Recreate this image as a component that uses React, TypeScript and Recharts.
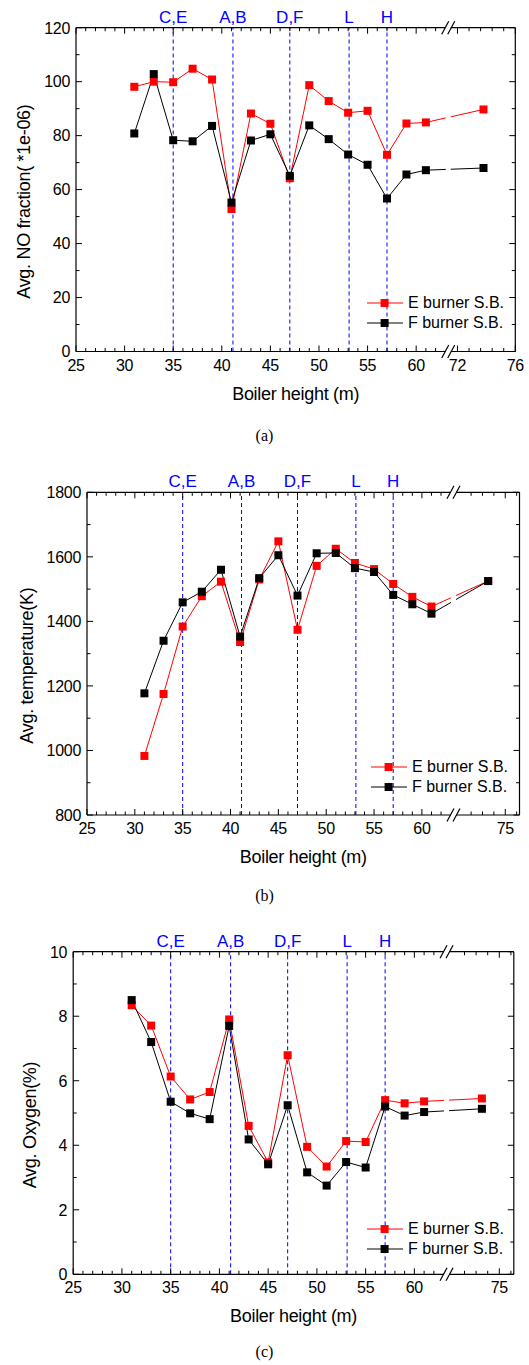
import React from 'react';
import { LineChart, Line, XAxis, YAxis, ReferenceLine, ReferenceArea, Legend, Label } from 'recharts';

// boiler heights (m) of the sampling planes; the last one sits past the axis break
const heights = [31, 33, 35, 37, 39, 41, 43, 45, 47, 49, 51, 53, 55, 57, 59, 61, 73.8];

// (a) average NO fraction (*1e-06)
const noE = [98.1, 100, 99.8, 104.8, 100.8, 52.8, 88.2, 84.4, 64.2, 98.7, 92.8, 88.5, 89.2, 72.9, 84.5, 84.9, 89.7];
const noF = [80.8, 102.8, 78.3, 77.9, 83.6, 55.2, 78.2, 80.5, 65.1, 83.8, 78.7, 73.0, 69.2, 56.7, 65.6, 67.2, 68.0];

// (b) average temperature (K)
const tempE = [983, 1175, 1384, 1478, 1523, 1336, 1530, 1648, 1374, 1572, 1625, 1581, 1562, 1516, 1476, 1446, 1525];
const tempF = [1177, 1340, 1459, 1492, 1560, 1353, 1534, 1605, 1480, 1611, 1612, 1565, 1553, 1482, 1453, 1424, 1525];

// (c) average oxygen (%)
const oxyE = [8.34, 7.71, 6.13, 5.42, 5.65, 7.9, 4.6, 3.47, 6.79, 3.95, 3.34, 4.13, 4.1, 5.4, 5.3, 5.36, 5.45];
const oxyF = [8.5, 7.2, 5.35, 4.99, 4.81, 7.7, 4.18, 3.41, 5.24, 3.16, 2.75, 3.48, 3.31, 5.2, 4.92, 5.03, 5.13];

// burner levels marked with dashed lines
const burnerHeights = [35, 41.15, 47, 53.1, 57];
const burnerLabels = ['C,E', 'A,B', 'D,F', 'L', 'H'];

const seriesNames = ['E burner S.B.', 'F burner S.B.'];
const seriesColors = ['#ff0000', '#000000'];

const labelsA = [25, 30, 35, 40, 45, 50, 55, 60, 72, 76];
const labelsBC = [25, 30, 35, 40, 45, 50, 55, 60, 75];
const minorSeg2A = [72, 72.8, 73.6, 74.4, 75.2, 76];
const minorSeg2BC = [72.6, 73.4, 74.2, 75, 75.8];

// broken x axis: 25..63 is drawn as is, 72..76 is squeezed in after the break
const X_MIN = 25;
const X_MAX = 70.2;
const BREAK = 63.3;
const SEG2_START = 64.25;
const toAxis = (h: number) => (h < 70 ? h : SEG2_START + ((h - 72) * (X_MAX - SEG2_START)) / 4);

const FONT = '"Liberation Sans", Arial, Helvetica, sans-serif';
const W = 529;
const BLUE = '#0000ff';
// room reserved for the axes (kept out of the margins)
const AX_B = 30;
const AX_T = 10;
const AX_L = 40;
const AX_R = 10;

const keyOf = (v: number) => v.toFixed(3);

function buildXTicks(labels: number[], seg2Minor: number[]) {
  const map = new Map<string, string>();
  const ticks: number[] = [BREAK];
  for (let v = 25; v <= 62; v++) ticks.push(v);
  seg2Minor.forEach((v) => ticks.push(toAxis(v)));
  labels.forEach((v) => {
    const p = toAxis(v);
    if (!ticks.some((t) => Math.abs(t - p) < 1e-6)) ticks.push(p);
    map.set(keyOf(p), String(v));
  });
  ticks.sort((a, b) => a - b);
  return { ticks, map };
}

// tick renderer; the BREAK tick draws the gap and the // marks instead
const makeXTick = (map: Map<string, string>, side: 'bottom' | 'top') => (props: any) => {
  const { x, y, payload } = props;
  if (Math.abs(payload.value - BREAK) < 1e-6) {
    return (
      <g>
        <rect x={x - 2.6} y={y - 2} width={5.2} height={4} fill="#fff" />
        <line x1={x - 6.5} y1={y + 6.5} x2={x + 0.5} y2={y - 6.5} stroke="#000" strokeWidth={1.2} />
        <line x1={x - 0.5} y1={y + 6.5} x2={x + 6.5} y2={y - 6.5} stroke="#000" strokeWidth={1.2} />
      </g>
    );
  }
  const label = map.get(keyOf(payload.value));
  const len = label !== undefined ? 6 : 3.5;
  const dir = side === 'bottom' ? -1 : 1;
  return (
    <g>
      <line x1={x} y1={y} x2={x} y2={y + dir * len} stroke="#000" strokeWidth={1} />
      {side === 'bottom' && label !== undefined && (
        <text x={x} y={y + 19} textAnchor="middle" fontSize={16} fill="#000" letterSpacing={-0.3}>
          {label}
        </text>
      )}
    </g>
  );
};

const makeYTick = (step: number, side: 'left' | 'right') => (props: any) => {
  const { x, y, payload } = props;
  const v = payload.value;
  const major = Math.abs(v / step - Math.round(v / step)) < 1e-6;
  const len = major ? 6 : 3.5;
  const dir = side === 'left' ? 1 : -1;
  return (
    <g>
      <line x1={x} y1={y} x2={x + dir * len} y2={y} stroke="#000" strokeWidth={1} />
      {side === 'left' && major && (
        <text x={x - 6} y={y + 5.8} textAnchor="end" fontSize={16} fill="#000" letterSpacing={-0.3}>
          {v}
        </text>
      )}
    </g>
  );
};

const SquareDot = (color: string) => (p: any) => (
  <rect key={`d-${p.index}`} x={p.cx - 4} y={p.cy - 4} width={8} height={8} fill={color} />
);

interface PanelProps {
  top: number;
  height: number;
  plot: { top: number; right: number; bottom: number; left: number };
  e: number[];
  f: number[];
  yDomain: [number, number];
  yStep: number;
  yMinor: number;
  yTitle: string;
  yTitleDx: number;
  xLabels: number[];
  xSeg2: number[];
  legendLeft: number;
  legendTop: number;
  caption: string;
  captionTop: number;
}

const axisLineStyle = { stroke: '#000', strokeWidth: 1.2 };

const Panel: React.FC<PanelProps> = (p) => {
  const data = heights.map((h, i) => ({ x: toAxis(h), e: p.e[i], f: p.f[i] }));
  const { ticks, map } = buildXTicks(p.xLabels, p.xSeg2);
  const yTicks: number[] = [];
  for (let v = p.yDomain[0]; v <= p.yDomain[1] + 1e-9; v += p.yMinor) yTicks.push(Math.round(v * 1000) / 1000);

  const margin = {
    top: p.plot.top - AX_T,
    right: p.plot.right - AX_R,
    bottom: p.plot.bottom - AX_B,
    left: p.plot.left - AX_L,
  };
  const plotW = W - p.plot.left - p.plot.right;
  const plotH = p.height - p.plot.top - p.plot.bottom;
  const pxX = plotW / (X_MAX - X_MIN);
  const pxY = plotH / (p.yDomain[1] - p.yDomain[0]);
  const [yMin, yMax] = p.yDomain;

  const cy = p.plot.top + plotH / 2 + 12;
  const cx = p.plot.left + plotW / 2;
  const tx = p.plot.left - p.yTitleDx;

  return (
    <div style={{ position: 'absolute', left: 0, top: p.top, width: W, height: p.height + 40 }}>
      <LineChart width={W} height={p.height} data={data} margin={margin}>
        <XAxis
          xAxisId="b"
          dataKey="x"
          type="number"
          domain={[X_MIN, X_MAX]}
          ticks={ticks}
          interval={0}
          allowDataOverflow
          axisLine={axisLineStyle}
          tickLine={false}
          tickSize={0}
          tickMargin={0}
          height={AX_B}
          tick={makeXTick(map, 'bottom')}
        >
          <Label
            content={() => (
              <text x={cx} y={p.plot.top + plotH + 48} textAnchor="middle" fontSize={18} fill="#000" letterSpacing={-0.3}>
                Boiler height (m)
              </text>
            )}
          />
        </XAxis>
        <XAxis
          xAxisId="t"
          orientation="top"
          dataKey="x"
          type="number"
          domain={[X_MIN, X_MAX]}
          ticks={ticks}
          interval={0}
          allowDataOverflow
          axisLine={axisLineStyle}
          tickLine={false}
          tickSize={0}
          tickMargin={0}
          height={AX_T}
          tick={makeXTick(map, 'top')}
        />
        <YAxis
          yAxisId="l"
          type="number"
          domain={p.yDomain}
          ticks={yTicks}
          interval={0}
          allowDataOverflow
          axisLine={axisLineStyle}
          tickLine={false}
          tickSize={0}
          tickMargin={0}
          width={AX_L}
          tick={makeYTick(p.yStep, 'left')}
        >
          <Label
            content={() => (
              <text
                x={tx}
                y={cy}
                transform={`rotate(-90 ${tx} ${cy})`}
                textAnchor="middle"
                dominantBaseline="central"
                fontSize={18}
                fill="#000"
                letterSpacing={-0.3}
              >
                {p.yTitle}
              </text>
            )}
          />
        </YAxis>
        <YAxis
          yAxisId="r"
          orientation="right"
          type="number"
          domain={p.yDomain}
          ticks={yTicks}
          interval={0}
          allowDataOverflow
          axisLine={axisLineStyle}
          tickLine={false}
          tickSize={0}
          tickMargin={0}
          width={AX_R}
          tick={makeYTick(p.yStep, 'right')}
        />

        <Line
          xAxisId="b"
          yAxisId="l"
          dataKey="e"
          name={seriesNames[0]}
          stroke={seriesColors[0]}
          strokeWidth={1}
          dot={SquareDot(seriesColors[0])}
          activeDot={false}
          isAnimationActive={false}
        />
        <Line
          xAxisId="b"
          yAxisId="l"
          dataKey="f"
          name={seriesNames[1]}
          stroke={seriesColors[1]}
          strokeWidth={1}
          dot={SquareDot(seriesColors[1])}
          activeDot={false}
          isAnimationActive={false}
        />

        {burnerHeights.map((h, i) => (
          <ReferenceLine
            key={`burner-${p.caption}-${i}`}
            xAxisId="b"
            yAxisId="l"
            x={h}
            stroke={BLUE}
            strokeWidth={1}
            strokeDasharray="4 3"
            label={{ value: burnerLabels[i], position: 'top', offset: 5, fill: BLUE, fontSize: 17 }}
          />
        ))}

        <ReferenceArea
          xAxisId="b"
          yAxisId="l"
          x1={BREAK - 2.5 / pxX}
          x2={BREAK + 2.5 / pxX}
          y1={yMin + 8 / pxY}
          y2={yMax - 8 / pxY}
          fill="#fff"
          fillOpacity={1}
          stroke="none"
          ifOverflow="visible"
          {...({ zIndex: 1000 } as any)}
        />

        <Legend
          layout="vertical"
          align="center"
          verticalAlign="middle"
          wrapperStyle={{ left: p.legendLeft, top: p.legendTop, width: 'auto' }}
          content={() => (
            <div style={{ fontFamily: FONT, fontSize: 16, color: '#000' }}>
              {seriesNames.map((n, i) => (
                <div key={n} style={{ display: 'flex', alignItems: 'center', height: 20 }}>
                  <svg width={36} height={20}>
                    <line x1={0} x2={36} y1={10} y2={10} stroke={seriesColors[i]} strokeWidth={1} />
                    <rect x={13.6} y={6} width={8} height={8} fill={seriesColors[i]} />
                  </svg>
                  <span style={{ marginLeft: 5, whiteSpace: 'nowrap' }}>{n}</span>
                </div>
              ))}
            </div>
          )}
        />
      </LineChart>
      <div
        style={{
          position: 'absolute',
          left: 0,
          top: p.captionTop,
          width: W,
          textAlign: 'center',
          fontFamily: '"Liberation Serif", "Times New Roman", serif',
          fontSize: 16,
        }}
      >
        {p.caption}
      </div>
    </div>
  );
};

export default function App() {
  return (
    <div
      style={{
        position: 'absolute',
        left: 0,
        top: 0,
        width: W,
        height: 1365,
        background: '#fff',
        fontFamily: FONT,
      }}
    >
      <Panel
        top={0}
        height={420}
        plot={{ top: 27.7, right: 13.7, bottom: 68.5, left: 76 }}
        e={noE}
        f={noF}
        yDomain={[0, 120]}
        yStep={20}
        yMinor={10}
        yTitle="Avg. NO fraction( *1e-06)"
        yTitleDx={52}
        xLabels={labelsA}
        xSeg2={minorSeg2A}
        legendLeft={367}
        legendTop={293}
        caption="(a)"
        captionTop={427}
      />
      <Panel
        top={450}
        height={420}
        plot={{ top: 42.3, right: 9.5, bottom: 55, left: 87 }}
        e={tempE}
        f={tempF}
        yDomain={[800, 1800]}
        yStep={200}
        yMinor={100}
        yTitle="Avg. temperature(K)"
        yTitleDx={60}
        xLabels={labelsBC}
        xSeg2={minorSeg2BC}
        legendLeft={371}
        legendTop={307}
        caption="(b)"
        captionTop={437}
      />
      <Panel
        top={910}
        height={420}
        plot={{ top: 41.7, right: 15.2, bottom: 55.7, left: 73.2 }}
        e={oxyE}
        f={oxyF}
        yDomain={[0, 10]}
        yStep={2}
        yMinor={1}
        yTitle="Avg. Oxygen(%)"
        yTitleDx={43}
        xLabels={labelsBC}
        xSeg2={minorSeg2BC}
        legendLeft={367}
        legendTop={309}
        caption="(c)"
        captionTop={433}
      />
    </div>
  );
}
